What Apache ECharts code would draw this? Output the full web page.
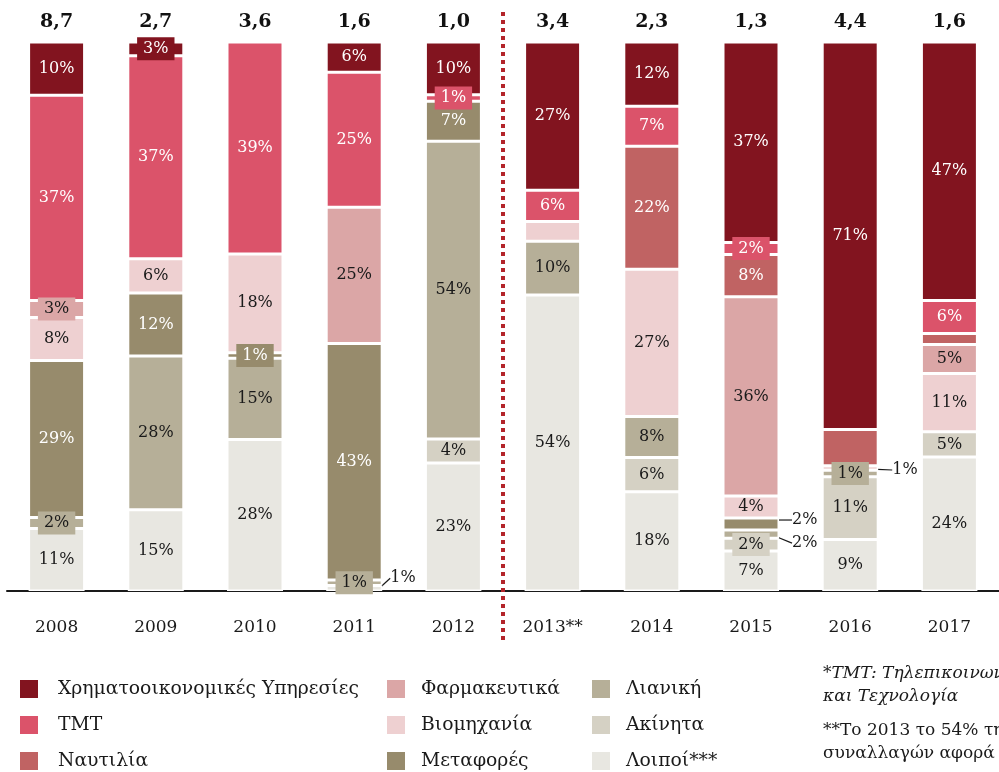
<!DOCTYPE html>
<html>
<head>
<meta charset="utf-8">
<script src="https://cdn.jsdelivr.net/npm/echarts@6/dist/echarts.min.js"></script>
<style>
  html, body { margin: 0; padding: 0; background: #fff; }
  #main { width: 999px; height: 772px; }
</style>
</head>
<body>
<div id="main"></div>
<script>
// έτη και συνολικές αξίες (δισ.)
var years = ['2008', '2009', '2010', '2011', '2012', '2013**', '2014', '2015', '2016', '2017'];
var totals = ['8,7', '2,7', '3,6', '1,6', '1,0', '3,4', '2,3', '1,3', '4,4', '1,6'];

// μερίδια ανά κλάδο (%), εκτίμηση από το γράφημα
var financial  = [9.7, 2.5, 0, 5.5, 9.6, 27.0, 11.7, 36.5, 70.6, 47.1];
var tmt        = [37.4, 37.0, 38.6, 24.6, 1.2, 5.7, 7.3, 2.2, 0, 6.0];
var shipping   = [0, 0, 0, 0, 0, 0, 22.4, 7.7, 6.6, 2.0];
var pharma     = [3.1, 0, 0, 24.8, 0, 0, 0, 36.3, 0, 5.3];
var industry   = [7.8, 6.2, 18.0, 0, 0, 3.6, 26.8, 4.0, 0.8, 10.6];
var transport  = [28.6, 11.5, 1.0, 43.1, 7.3, 0, 0, 2.2, 0, 0];
var retail     = [2.0, 28.0, 14.8, 1.0, 54.2, 9.8, 7.5, 1.5, 1.2, 0];
var realEstate = [0, 0, 0, 0, 4.4, 0, 6.2, 2.3, 11.4, 4.6];
var others     = [11.4, 14.8, 27.6, 1.0, 23.3, 53.9, 18.1, 7.3, 9.4, 24.4];

// στήλες του υπομνήματος
var legendCols = [
    ['Χρηματοοικονομικές Υπηρεσίες', 'TMT', 'Ναυτιλία'],
    ['Φαρμακευτικά', 'Βιομηχανία', 'Μεταφορές'],
    ['Λιανική', 'Ακίνητα', 'Λοιποί***']
];

var FONT = 'DejaVu Serif';

// σειρές από κάτω προς τα πάνω
var defs = [
    { name: 'Λοιποί***', data: others, color: '#e8e7e1', text: '#1a1a1a' },
    { name: 'Ακίνητα', data: realEstate, color: '#d5d1c4', text: '#1a1a1a' },
    { name: 'Λιανική', data: retail, color: '#b6af98', text: '#1a1a1a' },
    { name: 'Μεταφορές', data: transport, color: '#978b6c', text: '#ffffff' },
    { name: 'Βιομηχανία', data: industry, color: '#eed0d1', text: '#1a1a1a' },
    { name: 'Φαρμακευτικά', data: pharma, color: '#dba6a6', text: '#1a1a1a' },
    { name: 'Ναυτιλία', data: shipping, color: '#c06363', text: '#ffffff' },
    { name: 'TMT', data: tmt, color: '#db536a', text: '#ffffff' },
    { name: 'Χρηματοοικονομικές Υπηρεσίες', data: financial, color: '#82141f', text: '#ffffff' }
];

// ετικέτες που λείπουν ή βγαίνουν έξω από τη στήλη
var hidden = { 'Βιομηχανία': [5], 'Ναυτιλία': [8, 9] };
var outside = {
    'Λοιποί***': { 3: [4, -10] },
    'Μεταφορές': { 7: [9, -4] },
    'Λιανική': { 7: [9, 9] },
    'Βιομηχανία': { 8: [10, 2] }
};

function buildSeries(d) {
    var hid = hidden[d.name] || [];
    var out = outside[d.name] || {};
    var items = d.data.map(function (v, i) {
        if (!v) return '-';
        var item = { value: v };
        if (hid.indexOf(i) >= 0) {
            item.label = { show: false };
        } else if (out[i]) {
            item.label = { position: 'right', distance: 4, color: '#1a1a1a' };
            item.labelLine = { show: true, lineStyle: { color: '#1a1a1a', width: 1.2 } };
        } else if (v < 3.5) {
            item.label = { backgroundColor: d.color, padding: [4, 6, 3, 6] };
        }
        return item;
    });
    return {
        name: d.name,
        type: 'bar',
        stack: 'all',
        barWidth: 56,
        data: items,
        itemStyle: { color: d.color, borderColor: '#fff', borderWidth: 1.5 },
        label: {
            show: true,
            position: 'inside',
            color: d.text,
            fontFamily: FONT,
            fontSize: 16,
            formatter: function (p) { return Math.round(p.value) + '%'; }
        },
        labelLayout: function (p) {
            var o = out[p.dataIndex];
            return o ? { dx: o[0], dy: o[1] } : {};
        }
    };
}

// ένα legend ανά στοιχείο, σε πλέγμα 3x3
var colLeft = [18, 385, 590];
var colGap = [14, 10, 10];
var legends = [];
legendCols.forEach(function (col, c) {
    col.forEach(function (name, r) {
        legends.push({
            left: colLeft[c],
            top: 678 + r * 36,
            padding: 0,
            icon: 'rect',
            itemWidth: 20,
            itemHeight: 20,
            selectedMode: false,
            data: [name],
            textStyle: {
                fontFamily: FONT, fontSize: 18.75,
                color: '#1a1a1a', padding: [0, 0, 0, colGap[c]]
            }
        });
    });
});

var myChart = echarts.init(document.getElementById('main'));
var option = {
    backgroundColor: '#ffffff',
    animation: false,
    grid: { left: 7, right: -8, top: 42, bottom: 181 },
    legend: legends,
    xAxis: [{
        type: 'category',
        data: years,
        axisLine: { lineStyle: { color: '#1a1a1a', width: 2 } },
        axisTick: { length: 9, lineStyle: { color: '#1a1a1a', width: 2 } },
        axisLabel: { margin: 28, fontFamily: FONT, fontSize: 17, color: '#1a1a1a' }
    }, {
        type: 'category',
        position: 'top',
        data: totals,
        axisLine: { show: false },
        axisTick: { show: false },
        axisLabel: { margin: 10, fontFamily: FONT, fontSize: 19, fontWeight: 'bold', color: '#111' }
    }],
    yAxis: {
        type: 'value',
        min: 0,
        max: 100,
        show: false,
        splitLine: { show: false }
    },
    series: defs.map(buildSeries)
};
myChart.setOption(option);

// κόκκινη διακεκομμένη διαχωριστική γραμμή ανάμεσα σε 2012 και 2013
var xa = myChart.convertToPixel({ xAxisIndex: 0 }, '2012');
var xb = myChart.convertToPixel({ xAxisIndex: 0 }, '2013**');
var xs = (xa + xb) / 2;

myChart.setOption({
    graphic: [{
        type: 'line',
        z: 100,
        shape: { x1: xs, y1: 12, x2: xs, y2: 642 },
        style: { stroke: '#b3242a', lineWidth: 4, lineDash: [4, 4] }
    }, {
        type: 'text',
        left: 823,
        top: 662,
        style: {
            text: '*TMT: Τηλεπικοινωνίες, Μέσα\nκαι Τεχνολογία',
            font: 'italic 17px "DejaVu Serif"',
            fill: '#1a1a1a',
            lineHeight: 23
        }
    }, {
        type: 'text',
        left: 823,
        top: 719,
        style: {
            text: '**Το 2013 το 54% της αξίας\nσυναλλαγών αφορά την',
            font: '17px "DejaVu Serif"',
            fill: '#1a1a1a',
            lineHeight: 23
        }
    }]
});
</script>
</body>
</html>
